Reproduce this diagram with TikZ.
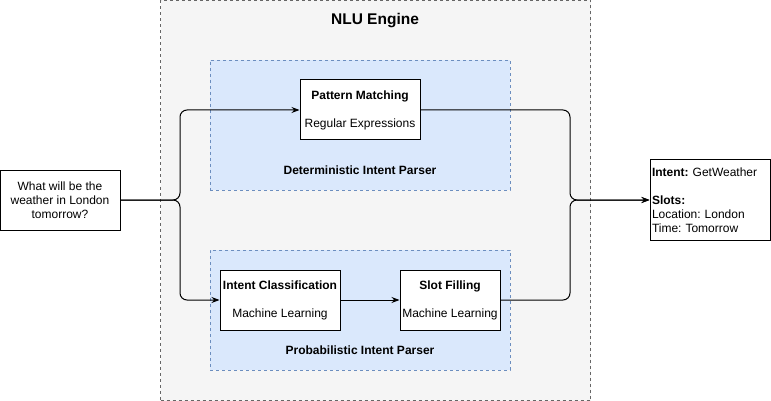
\documentclass[tikz,border=0pt]{standalone}
\usepackage{fontspec}
\setmainfont{Liberation Sans}
\usepackage{tikz}
\usetikzlibrary{arrows.meta,positioning,calc}

\definecolor{enginefill}{HTML}{F5F5F5}
\definecolor{enginedraw}{HTML}{666666}
\definecolor{parserfill}{HTML}{DAE8FC}
\definecolor{parserdraw}{HTML}{6C8EBF}

\frenchspacing
\begin{document}
\begin{tikzpicture}[x=1pt, y=-1pt,
  every node/.style={font=\fontsize{12}{14}\selectfont},
  engine/.style={draw=enginedraw, fill=enginefill, dashed, dash pattern=on 3pt off 3pt, thin},
  parser/.style={draw=parserdraw, fill=parserfill, dashed, dash pattern=on 3pt off 3pt, thin},
  stagebox/.style={draw, fill=white, line width=1pt, minimum width=#1, minimum height=60, inner sep=0pt, align=center},
  link/.style={line width=1pt, rounded corners=7pt, -{Stealth[length=8pt, width=6pt]}}]
  \useasboundingbox (0,0) rectangle (771,401);
  % NLU engine frame
  \node[engine, minimum width=430, minimum height=400] (engine) at (375.5,200.5) {};
  \node[font=\fontsize{15.5}{18}\selectfont\bfseries] (title) at (375,21) {NLU Engine};
  % deterministic parser
  \node[parser, minimum width=300, minimum height=130] (det) at (360,125) {};
  \node[font=\fontsize{12}{14}\selectfont\bfseries] (detlabel) at (360,170) {Deterministic Intent Parser};
  \node[stagebox=120] (pm) at (360,110) {\textbf{Pattern Matching}\\[14pt]Regular Expressions};
  % probabilistic parser
  \node[parser, minimum width=300, minimum height=120] (prob) at (360,310) {};
  \node[font=\fontsize{12}{14}\selectfont\bfseries] (problabel) at (360,350) {Probabilistic Intent Parser};
  \node[stagebox=120] (ic) at (280,300) {\textbf{Intent Classification}\\[14pt]Machine Learning};
  \node[stagebox=100] (sf) at (450,300) {\textbf{Slot Filling}\\[14pt]Machine Learning};
  % input and output
  \node[stagebox=120] (query) at (60,200) {What will be the\\weather in London\\tomorrow?};
  \node[draw, fill=white, line width=1pt, minimum width=120, minimum height=80, text width=116, inner xsep=2pt, align=left] (result) at (710,200)
    {\textbf{Intent:} GetWeather\\[14pt]\textbf{Slots:}\\Location: London\\Time: Tomorrow};
  % junctions
  \coordinate (split) at (180,200);
  \coordinate (merge) at (570,200);
  % connectors
  \draw[link] (query.east) -- (split) |- (pm.west);
  \draw[link] (query.east) -- (split) |- (ic.west);
  \draw[link] (ic.east) -- (sf.west);
  \draw[link] (pm.east) -| (merge) -- (result.west);
  \draw[link] (sf.east) -| (merge) -- (result.west);
\end{tikzpicture}
\end{document}
